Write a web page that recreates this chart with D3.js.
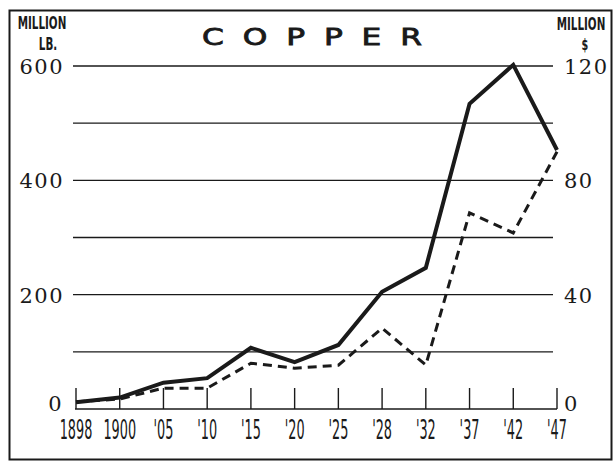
<!DOCTYPE html>
<html>
<head>
<meta charset="utf-8">
<script src="https://cdn.jsdelivr.net/npm/d3@7"></script>
<style>
  html, body { margin: 0; padding: 0; background: #fff; }
  svg { display: block; }
</style>
</head>
<body>
<svg id="chart" width="616" height="462"></svg>
<script>
// Data
const YEARS = ["1898","1900","'05","'10","'15","'20","'25","'28","'32","'37","'42","'47"];
// million lb (solid line, left axis)
const pounds  = [12, 20, 46, 54, 107, 82, 112, 205, 247, 534, 602, 453];
// million $ (dashed line, right axis)
const dollars = [2.5, 3.5, 7.3, 7.3, 16, 14.3, 15.3, 28.3, 15.4, 68.6, 61.6, 90];

const LEFT_TICKS  = [0, 200, 400, 600];
const RIGHT_TICKS = [0, 40, 80, 120];
const GRID        = [0, 100, 200, 300, 400, 500, 600];

// Setup
const svg = d3.select("#chart");
const INK = "#1a1a1a";

const x  = d3.scalePoint().domain(YEARS).range([76, 557]);
const yL = d3.scaleLinear().domain([0, 600]).range([409, 66]);
const yR = d3.scaleLinear().domain([0, 120]).range([409, 66]);

// frame
svg.append("rect")
  .attr("x", 9.5).attr("y", 10.5).attr("width", 602).attr("height", 449)
  .attr("fill", "none").attr("stroke", INK).attr("stroke-width", 2);

// gridlines
svg.append("g").selectAll("line").data(GRID).join("line")
  .attr("x1", d => d === 0 ? 75 : 73).attr("x2", d => d === 0 ? 557 : 553)
  .attr("y1", d => yL(d)).attr("y2", d => yL(d))
  .attr("stroke", INK).attr("stroke-width", 1.4);

// x ticks (vertical marks up from baseline)
svg.append("g").selectAll("line").data(YEARS).join("line")
  .attr("x1", d => x(d)).attr("x2", d => x(d))
  .attr("y1", yL(0)).attr("y2", yL(0) - 21)
  .attr("stroke", INK).attr("stroke-width", 1.4);

// x labels (tall condensed)
svg.append("g").selectAll("text").data(YEARS).join("text")
  .attr("transform", d => `translate(${x(d)},439) scale(0.68,1.3)`)
  .attr("text-anchor", "middle")
  .attr("font-family", "'DejaVu Sans Condensed','DejaVu Sans',sans-serif")
  .attr("font-size", "21px")
  .attr("fill", INK)
  .text(d => d);

// left axis labels
svg.append("g").selectAll("text").data(LEFT_TICKS).join("text")
  .attr("x", d => d === 0 ? 63 : 64).attr("y", d => yL(d) + (d === 0 ? 2 : 8))
  .attr("text-anchor", "end")
  .attr("font-family", "'DejaVu Serif',serif")
  .attr("font-size", "21px")
  .attr("letter-spacing", "1.5px")
  .attr("fill", INK)
  .text(d => d);

// right axis labels
svg.append("g").selectAll("text").data(RIGHT_TICKS).join("text")
  .attr("x", 564).attr("y", d => yR(d) + (d === 0 ? 2 : 8))
  .attr("text-anchor", "start")
  .attr("font-family", "'DejaVu Serif',serif")
  .attr("font-size", "21px")
  .attr("letter-spacing", "1.5px")
  .attr("fill", INK)
  .text(d => d);

// unit labels
const unit = (txt, cx, cy, size) => svg.append("text")
  .attr("transform", `translate(${cx},${cy}) scale(0.72,1.1)`)
  .attr("text-anchor", "middle")
  .attr("font-family", "'DejaVu Sans Condensed','DejaVu Sans',sans-serif")
  .attr("font-weight", "bold")
  .attr("font-size", size)
  .attr("fill", INK)
  .text(txt);
unit("MILLION", 42, 29, "16px");
unit("LB.", 48, 50, "16px");
unit("MILLION", 581, 30, "16px");
unit("$", 585, 50, "15px");

// title (wide capitals)
svg.append("text")
  .attr("transform", "translate(202,45) scale(1.25,0.95)")
  .attr("textLength", 176).attr("lengthAdjust", "spacing")
  .attr("font-family", "'DejaVu Sans',sans-serif")
  .attr("font-size", "25px")
  .attr("fill", INK)
  .attr("stroke", INK).attr("stroke-width", 0.9)
  .text("COPPER");

// lines
const lineL = d3.line().x((d, i) => x(YEARS[i])).y(d => yL(d));
const lineR = d3.line().x((d, i) => x(YEARS[i])).y(d => yR(d));

svg.append("path").attr("d", lineR(dollars))
  .attr("fill", "none").attr("stroke", INK)
  .attr("stroke-width", 3).attr("stroke-dasharray", "9 6");

svg.append("path").attr("d", lineL(pounds))
  .attr("fill", "none").attr("stroke", INK)
  .attr("stroke-width", 4).attr("stroke-linejoin", "miter");
</script>
</body>
</html>
